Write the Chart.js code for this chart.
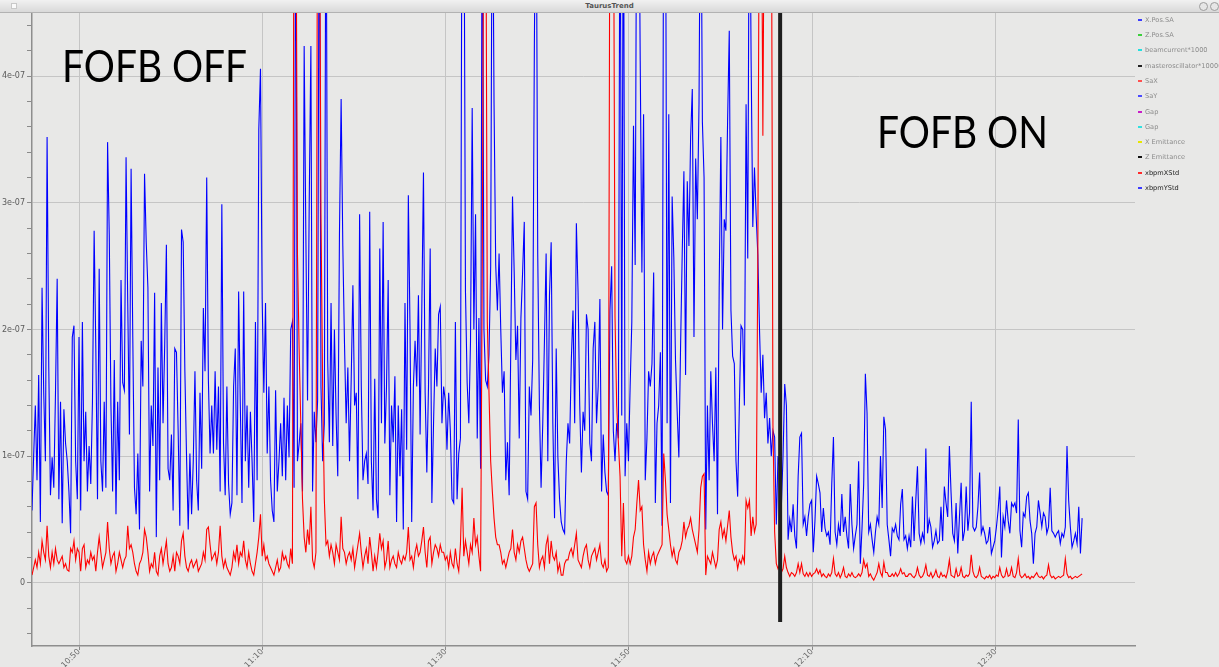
<!DOCTYPE html>
<html>
<head>
<meta charset="utf-8">
<script src="https://cdn.jsdelivr.net/npm/chart.js@4.4.0/dist/chart.umd.min.js"></script>
<style>
  html, body { margin: 0; padding: 0; background: #e8e8e7; overflow: hidden; }
  #wrap { position: relative; width: 1219px; height: 667px; }
  #trend { position: absolute; left: 0; top: 0; }
  #titlebar {
    position: absolute; left: 0; top: 0; width: 1219px; height: 12px;
    background: linear-gradient(#f1f1f1, #d9d9d9);
    border-bottom: 1px solid #b2b2b2;
    font: bold 7px "DejaVu Sans", sans-serif; color: #555;
    text-align: center; line-height: 12px;
  }
  #titlebar .sq { position: absolute; left: 11px; top: 3px; width: 4px; height: 4px; background: #fafafa; border: 1px solid #c8c8c8; }
  #titlebar .btn { position: absolute; top: 2px; width: 7px; height: 7px; border-radius: 50%; border: 1px solid #9c9c9c; background: #e6e6e6; }
  #legend { position: absolute; left: 1137px; top: 13px; width: 82px; height: 200px; overflow: hidden; }
  .item { position: absolute; left: 0; height: 10px; white-space: nowrap; font: 6.6px "DejaVu Sans", sans-serif; line-height: 10px; }
  .item .mk { position: absolute; left: 1px; top: 4px; width: 4px; height: 2px; }
  .item .tx { position: absolute; left: 8px; top: 0; }
</style>
</head>
<body>
<div id="wrap">
  <canvas id="trend" width="1219" height="667"></canvas>
  <div id="titlebar">TaurusTrend<div class="sq"></div><div class="btn" style="left:1199px"></div><div class="btn" style="left:1210px"></div></div>
  <div id="legend"></div>
</div>
<script>
// Sampling: one reading every 11 s, starting at 10:44:52 (minutes since midnight)
const START_MIN = 644 + 52 / 60;
const STEP_MIN = 11 / 60;
const VIEW_MIN = 644.87;
const VIEW_MAX = 765.22;

// Horizontal beam position standard deviation, in units of 1e-9
const xbpmXStd = [
  6,12,18,12,24,15,33,24,18,45,
  21,12,24,15,27,18,15,18,21,12,
  15,10,9,27,24,33,18,27,24,9,
  27,30,12,18,15,24,18,21,9,24,
  36,24,12,18,24,48,27,15,21,24,
  9,15,24,18,12,18,21,45,27,30,
  24,15,9,6,15,18,24,42,36,24,
  9,15,12,24,9,6,21,27,15,24,
  33,15,9,12,21,9,24,21,15,33,
  39,21,12,9,15,18,12,15,18,9,
  12,15,24,18,42,
  44,30,18,21,24,15,24,45,21,12,
  18,12,9,6,12,24,18,30,15,24,
  21,33,18,12,24,15,9,6,15,24,
  36,54,21,30,18,21,15,12,9,6,
  12,18,9,12,24,18,21,15,12,27,
  15,600,600,260,185,125,66,36,24,42,
  30,60,18,12,24,600,600,291,155,66,
  30,33,21,30,24,15,30,24,18,52,
  27,24,15,21,24,18,27,12,21,30,
  39,24,12,21,27,15,36,24,9,21,
  12,24,39,27,33,12,
  18,33,12,18,21,15,12,24,18,15,
  21,18,24,44,18,21,12,24,30,21,
  24,33,44,24,12,33,36,15,24,30,
  27,21,30,24,24,18,21,12,24,15,
  12,27,15,9,30,75,21,33,24,15,
  30,24,51,30,36,21,9,254,600,600,
  206,150,96,72,51,36,30,30,24,15,
  18,12,18,24,27,42,24,18,30,24,
  33,36,27,18,12,9,12,15,60,63,
  30,12,18,21,12,30,36,15,33,21,
  18,
  24,9,15,6,6,15,18,18,24,27,
  21,30,39,18,15,12,21,27,30,18,
  12,21,24,27,18,24,30,15,12,18,
  9,12,600,600,600,210,140,111,84,21,
  63,18,15,21,15,21,36,42,63,81,
  57,60,30,18,9,24,15,21,24,15,
  21,24,27,30,102,81,54,42,30,21,
  27,18,15,24,27,33,48,36,42,45,
  51,42,36,30,24,42,75,84,86,6,
  21,18,15,24,18,12,18,42,48,36,
  42,33,45,57,36,24,18,
  21,11,18,15,21,16,65,59,65,37,
  52,40,46,259,600,600,353,600,600,600,
  600,600,124,40,15,11,14,8,11,21,
  12,8,5,8,7,5,8,15,8,15,
  7,5,8,5,8,5,7,8,11,7,
  10,5,7,5,4,7,5,8,19,7,
  5,8,4,7,12,5,4,7,5,8,
  5,4,5,7,5,8,18,12,15,5,
  7,4,2,5,8,15,8,5,16,8,
  8,5,5,7,5,8,5,7,11,7,
  8,5,5,7,
  7,5,4,6,12,6,4,5,8,14,
  6,5,8,4,6,10,5,4,8,5,
  6,4,9,18,6,5,4,11,5,6,
  12,5,4,6,5,7,22,9,5,4,
  6,12,5,4,3,5,4,6,3,5,
  4,6,5,12,6,4,5,11,5,6,
  12,5,4,8,19,6,4,5,7,4,
  5,3,5,4,6,8,5,4,5,3,
  5,6,14,6,4,5,3,4,5,4,
  5,6,19,7,4,5,3,4,5,4,
  5,6,7
];

// Vertical beam position standard deviation, in units of 1e-9
const xbpmYStd = [
  57,100,140,81,164,48,233,150,96,352,
  170,69,99,75,150,240,66,143,47,137,
  110,96,72,39,194,203,96,66,194,57,
  206,96,135,72,108,78,143,278,185,66,
  248,96,72,143,75,348,275,140,72,176,
  54,143,81,239,158,152,336,221,117,327,
  194,75,54,102,42,191,155,323,269,233,
  72,140,108,229,36,170,81,221,126,188,
  267,90,81,117,57,185,182,120,45,279,
  269,167,99,42,102,54,96,167,81,57,
  150,90,217,167,320,
  160,
  102,140,102,167,105,155,72,299,110,69,
  155,78,54,63,155,185,69,230,140,63,
  230,96,140,75,135,96,48,206,81,358,
  406,224,150,221,102,155,81,57,48,152,
  72,96,126,84,146,81,140,99,200,206,
  75,600,96,110,126,72,424,275,144,299,
  424,72,135,111,144,600,155,96,126,600,
  176,111,221,108,200,132,84,275,382,266,
  189,126,170,96,161,235,140,150,66,291,
  155,81,96,102,78,293,96,57,161,66,
  51,264,126,285,110,
  155,239,69,140,111,163,48,140,84,137,
  42,221,105,306,200,48,155,191,155,227,
  117,215,324,150,87,155,264,63,126,185,
  155,212,218,126,155,144,105,150,120,66,
  63,206,66,102,114,600,600,230,158,126,
  191,375,200,291,114,209,90,600,200,160,
  155,180,250,600,379,251,215,260,200,150,
  167,81,111,69,191,305,245,176,203,114,
  209,245,285,72,66,155,132,176,424,600,
  260,140,75,126,191,260,96,227,269,126,
  51,
  185,99,66,48,42,39,96,126,110,176,
  215,126,284,230,140,87,135,120,212,200,
  110,96,185,206,126,155,224,72,117,87,
  72,69,215,250,120,96,126,114,600,132,
  600,84,126,96,155,206,361,251,600,600,
  412,245,370,81,114,167,155,173,245,63,
  126,140,182,45,600,600,126,370,63,305,
  257,176,135,99,185,260,325,164,317,266,
  352,390,194,335,287,379,600,364,320,42,
  140,81,167,126,96,170,54,233,352,200,
  287,278,364,436,215,179,173,
  96,68,140,203,200,140,378,256,600,413,
  281,328,290,259,200,150,180,130,150,110,
  130,100,120,115,46,100,90,60,100,157,
  140,34,50,40,62,37,27,84,115,118,
  46,52,37,52,62,65,24,49,84,78,
  71,40,59,43,37,40,30,78,115,40,
  30,46,37,70,40,52,37,27,78,46,
  27,37,46,96,15,43,78,165,134,40,
  46,34,24,40,52,46,100,59,131,121,
  46,34,21,43,40,46,37,34,62,74,
  34,37,27,37,
  28,68,33,65,92,39,31,39,33,106,
  39,50,44,28,33,41,31,33,60,33,
  76,63,52,108,71,39,33,63,23,52,
  79,33,41,76,41,55,143,44,41,44,
  60,87,39,44,39,31,33,44,23,28,
  33,44,57,76,20,52,44,65,49,39,
  63,60,63,55,129,41,28,55,52,68,
  71,49,39,15,39,44,65,55,44,55,
  52,39,44,75,41,39,36,39,41,31,
  39,36,44,108,65,44,28,33,39,31,
  60,23,51
];
const VALUE_UNIT = 1e-9;

// Axis tick labels
const timeTickLabels = ['10:50', '11:10', '11:30', '11:50', '12:10', '12:30'];
const yMajorValues = [0, 1e-7, 2e-7, 3e-7, 4e-7];
const yMajorLabels = ['0', '1e-07', '2e-07', '3e-07', '4e-07'];
const Y_MIN = -0.5e-7, Y_MAX = 4.5e-7, Y_MINOR_STEP = 0.2e-7;

// Legend of the trend window
const legendNames = ['X.Pos.SA', 'Z.Pos.SA', 'beamcurrent*1000', 'masteroscillator*10000', 'SaX', 'SaY', 'Gap', 'Gap', 'X Emittance', 'Z Emittance', 'xbpmXStd', 'xbpmYStd'];
const legendColors = ['#3a3aff', '#3ccf3c', '#22e0e0', '#222222', '#ff5050', '#4a4aff', '#c81ec8', '#30e0e0', '#e6e600', '#111111', '#ff2a2a', '#3c3cff'];
const legendActive = [false, false, false, false, false, false, false, false, false, false, true, true];

// Annotations: feedback switched on at 12:06:30
const FOFB_SWITCH_MIN = 726.5;
const annotations = [
  { text: 'FOFB OFF', t: 648.15, v: 3.955e-7, width: 185 },
  { text: 'FOFB ON', t: 737.07, v: 3.43e-7, width: 171 }
];

const toMinutes = s => { const [h, m] = s.split(':').map(Number); return h * 60 + m; };
const fmtTime = v => { const h = Math.floor(v / 60), m = Math.round(v - h * 60); return h + ':' + String(m).padStart(2, '0'); };
const series = arr => arr.map((v, i) => ({ x: START_MIN + i * STEP_MIN, y: v * VALUE_UNIT }));
const majorIndex = v => yMajorValues.findIndex(m => Math.abs(m - v) < 1e-12);

// legend
const legendEl = document.getElementById('legend');
legendNames.forEach((name, k) => {
  const d = document.createElement('div');
  d.className = 'item';
  d.style.top = (1.7 + 15.3 * k) + 'px';
  d.innerHTML = '<span class="mk" style="background:' + legendColors[k] + '"></span><span class="tx" style="color:' + (legendActive[k] ? '#1c1c1c' : '#8c8c8c') + '">' + name + '</span>';
  legendEl.appendChild(d);
});

const annotationPlugin = {
  id: 'fofbMarks',
  afterDatasetsDraw(chart) {
    const { ctx, scales: { x, y } } = chart;
    ctx.save();
    const lx = x.getPixelForValue(FOFB_SWITCH_MIN);
    ctx.strokeStyle = '#1e1e1e';
    ctx.lineWidth = 4;
    ctx.beginPath();
    ctx.moveTo(lx, y.getPixelForValue(Y_MAX) - 1);
    ctx.lineTo(lx, y.getPixelForValue(-3.1e-8));
    ctx.stroke();
    ctx.fillStyle = '#000';
    ctx.font = '44px Lato, "Open Sans", sans-serif';
    ctx.textBaseline = 'alphabetic';
    annotations.forEach(a => {
      const w = ctx.measureText(a.text).width;
      ctx.save();
      ctx.translate(x.getPixelForValue(a.t), y.getPixelForValue(a.v));
      ctx.scale(a.width / w, 1);
      ctx.fillText(a.text, 0, 0);
      ctx.restore();
    });
    ctx.restore();
  }
};

new Chart(document.getElementById('trend'), {
  type: 'line',
  data: {
    datasets: [
      { label: 'xbpmXStd', data: series(xbpmXStd), borderColor: '#ff0000', borderWidth: 1.1 },
      { label: 'xbpmYStd', data: series(xbpmYStd), borderColor: '#0000ff', borderWidth: 1.1 }
    ]
  },
  options: {
    responsive: false,
    animation: false,
    devicePixelRatio: 1,
    parsing: false,
    layout: { padding: { top: 13, right: 84, left: 0, bottom: 0 } },
    elements: { point: { radius: 0 }, line: { tension: 0 } },
    plugins: { legend: { display: false }, tooltip: { enabled: false } },
    scales: {
      x: {
        type: 'linear',
        min: VIEW_MIN,
        max: VIEW_MAX,
        afterBuildTicks: s => { s.ticks = timeTickLabels.map(l => ({ value: toMinutes(l) })); },
        afterFit: s => { s.height = 21; },
        grid: { color: '#c5c5c5', lineWidth: 1, tickLength: 4, tickColor: '#8a8a8a' },
        border: { color: '#8e8e8e', width: 1.5 },
        ticks: {
          autoSkip: false, minRotation: 45, maxRotation: 45, padding: -3,
          color: '#6a6a6a', font: { family: 'DejaVu Sans', size: 8 },
          callback: v => fmtTime(v)
        }
      },
      y: {
        min: Y_MIN,
        max: Y_MAX,
        afterBuildTicks: s => {
          const t = [];
          for (let k = -2; k * Y_MINOR_STEP <= Y_MAX + 1e-12; k++) t.push({ value: k * Y_MINOR_STEP });
          s.ticks = t;
        },
        afterFit: s => { s.width = 32; },
        grid: {
          color: c => majorIndex(c.tick.value) >= 0 ? '#c5c5c5' : 'rgba(0,0,0,0)',
          lineWidth: 1, tickLength: 5, tickColor: '#8a8a8a'
        },
        border: { color: '#8e8e8e', width: 1.5 },
        ticks: {
          padding: 2, color: '#5a5a5a', font: { family: 'DejaVu Sans', size: 8 },
          callback: v => { const k = majorIndex(v); return k >= 0 ? yMajorLabels[k] : ''; }
        }
      }
    }
  },
  plugins: [annotationPlugin]
});
</script>
</body>
</html>
